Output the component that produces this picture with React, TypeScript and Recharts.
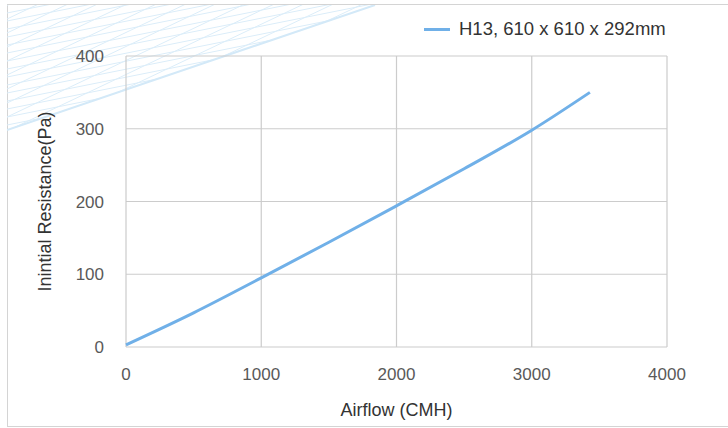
import { LineChart, Line, XAxis, YAxis, CartesianGrid, Legend } from "recharts";

const airflow = [0, 500, 1000, 1500, 2000, 2500, 3000, 3430];
const resistance = [3, 47, 95, 144, 194, 245, 298, 350];
const xTicks = [0, 1000, 2000, 3000, 4000];
const yTicks = [0, 100, 200, 300, 400];
const seriesName = "H13, 610 x 610 x 292mm";

const data = airflow.map((a, i) => ({ airflow: a, resistance: resistance[i] }));

const FONT = '"Liberation Sans", Arial, sans-serif';

// background crosshatch in the top-left corner (decoration only)
function Hatch() {
  const lines = [];
  for (let i = 0; i < 26; i++) {
    const y0 = i * 8;
    lines.push(<line key={"a" + i} x1={0} y1={y0} x2={400} y2={y0 - 80} />);
  }
  for (let i = 0; i < 30; i++) {
    const y0 = i * 14;
    lines.push(<line key={"b" + i} x1={0} y1={y0} x2={400} y2={y0 - 190} />);
  }
  return (
    <svg width={380} height={140} style={{ position: "absolute", left: 7, top: 5 }}>
      <defs>
        <clipPath id="wedge">
          <polygon points="0,0 368,0 0,125" />
        </clipPath>
      </defs>
      <g clipPath="url(#wedge)" fill="none" stroke="#dbedf9" strokeWidth={1}>
        {lines}
      </g>
      <line x1={0} y1={125} x2={368} y2={0} stroke="#d3e9f8" strokeWidth={2} />
    </svg>
  );
}

function LegendContent() {
  return (
    <div style={{ display: "flex", alignItems: "center", fontFamily: FONT, fontSize: 18.5, color: "#333", whiteSpace: "nowrap" }}>
      <span style={{ display: "inline-block", width: 26, height: 3, background: "#70b0e8", marginRight: 9 }} />
      {seriesName}
    </div>
  );
}

export default function App() {
  return (
    <div style={{ position: "absolute", left: 0, top: 0, width: 728, height: 428, background: "#fff", overflow: "hidden" }}>
      <div style={{ position: "absolute", left: 7, top: 4, width: 740, height: 421, border: "1px solid #d4d4d4" }} />
      <Hatch />
      <div style={{ position: "absolute", left: 0, top: 0 }}>
        <LineChart width={728} height={428} data={data} margin={{ top: 56, right: 61, left: 0, bottom: 0 }}>
          <CartesianGrid stroke="#cccccc" strokeWidth={1.2} />
          <XAxis
            dataKey="airflow"
            type="number"
            domain={[0, 4000]}
            ticks={xTicks}
            height={81}
            tickLine={false}
            axisLine={false}
            tickMargin={15}
            tick={{ fontSize: 17, fill: "#595959", fontFamily: FONT }}
            label={{ value: "Airflow (CMH)", position: "insideBottom", offset: 12, style: { fontSize: 18, fill: "#333", fontFamily: FONT } }}
          />
          <YAxis
            type="number"
            domain={[0, 400]}
            ticks={yTicks}
            width={126}
            tickLine={false}
            axisLine={false}
            tickMargin={16}
            tick={{ fontSize: 17, fill: "#595959", fontFamily: FONT }}
            label={{
              value: "Inintial Resistance(Pa)",
              angle: -90,
              position: "insideLeft",
              offset: 45,
              style: { textAnchor: "middle", fontSize: 18, fill: "#333", fontFamily: FONT },
            }}
          />
          <Legend verticalAlign="middle" content={<LegendContent />} wrapperStyle={{ top: 18, left: 424, width: 300 }} />
          <Line
            type="monotone"
            dataKey="resistance"
            name={seriesName}
            stroke="#70b0e8"
            strokeWidth={3}
            dot={false}
            isAnimationActive={false}
          />
        </LineChart>
      </div>
    </div>
  );
}
